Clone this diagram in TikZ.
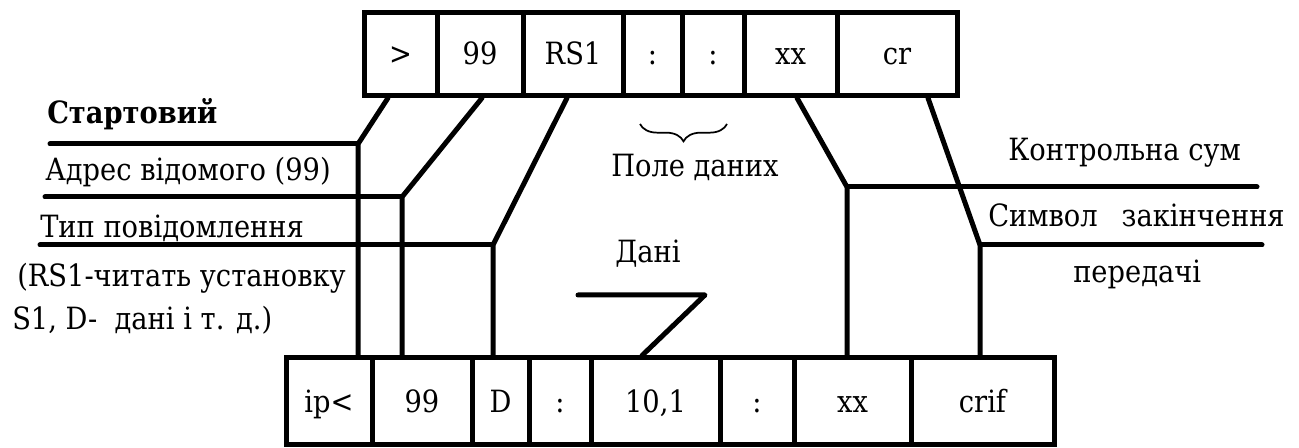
\documentclass[tikz,border=0pt]{standalone}
\usepackage{fontspec}
\setmainfont{DejaVu Serif}[FakeStretch=0.89]
\usetikzlibrary{decorations.pathreplacing}
\begin{document}
\begin{tikzpicture}[x=0.75pt,y=-0.75pt,
  every node/.style={font=\fontsize{23}{28}\selectfont},
  cell/.style={draw, line width=3.75pt, inner sep=0pt, text height=16pt, text depth=0pt},
  sz/.style 2 args={minimum width=#1*0.75pt, minimum height=#2*0.75pt},
  conn/.style={line width=3.75pt, line cap=round, line join=round},
  lbl/.style={anchor=base west, inner sep=0pt}]
\useasboundingbox (0,0) rectangle (1299,448);
% top frame
\node[cell, sz={73}{83}]  (t1) at (400.5,54) {>};
\node[cell, sz={86}{83}]  (t2) at (480,54)   {99};
\node[cell, sz={100}{83}] (t3) at (573,54)   {RS1};
\node[cell, sz={59}{83}]  (t4) at (652.5,54) {:};
\node[cell, sz={62}{83}]  (t5) at (713,54)   {:};
\node[cell, sz={93}{83}]  (t6) at (790.5,54) {xx};
\node[cell, sz={120}{83}] (t7) at (897,54)   {cr};
% bottom frame
\node[cell, sz={86}{87}]  (b1) at (329,401.5)   {ip<};
\node[cell, sz={100}{87}] (b2) at (422,401.5)   {99};
\node[cell, sz={57}{87}]  (b3) at (500.5,401.5) {D};
\node[cell, sz={62}{87}]  (b4) at (560,401.5)   {:};
\node[cell, sz={129}{87}] (b5) at (655.5,401.5) {10,1};
\node[cell, sz={74}{87}]  (b6) at (757,401.5)   {:};
\node[cell, sz={117}{87}] (b7) at (852.5,401.5) {xx};
\node[cell, sz={143}{87}] (b8) at (982.5,401.5) {crif};
% bend coordinates
\coordinate (k1) at (358,144); \coordinate (h1) at (50,144);
\coordinate (k2) at (402,197); \coordinate (h2) at (45,197);
\coordinate (k3) at (493,245); \coordinate (h3) at (40,245);
\coordinate (k4) at (847,187); \coordinate (h4) at (1257,187);
\coordinate (k5) at (980,245); \coordinate (h5) at (1262,245);
\coordinate (z1) at (578,295); \coordinate (z2) at (705,295);
% connectors
\draw[conn] ([xshift=-9.4pt]t1.south) -- (k1) -- (k1 |- b1.north);
\draw[conn] (h1) -- (k1);
\draw[conn] ([xshift=1.5pt]t2.south) -- (k2) -- (k2 |- b2.north);
\draw[conn] (h2) -- (k2);
\draw[conn] ([xshift=-4.5pt]t3.south) -- (k3) -- (k3 |- b3.north);
\draw[conn] (h3) -- (k3);
\draw[conn] ([xshift=4.9pt]t6.south) -- (k4) -- (k4 |- b7.north);
\draw[conn] (k4) -- (h4);
\draw[conn] ([xshift=23.25pt]t7.south) -- (k5) -- (k5 |- b8.north);
\draw[conn] (k5) -- (h5);
\draw[conn] (z1) -- (z2) -- ([xshift=-10.1pt]b5.north);
% brace
\draw[line width=1.3pt, decorate, decoration={brace, mirror, amplitude=13pt}] (640,124) -- (727,124);
% labels
\node[lbl, font=\fontsize{23}{28}\selectfont\bfseries] (l1) at (47,124) {Стартовий};
\node[lbl] (l2) at (45,181) {Адрес відомого (99)};
\node[lbl] (l3) at (40,238) {Тип повідомлення};
\node[lbl] (l4) at (17,287) {(RS1-читать установку};
\node[lbl] (l5) at (12,330) {S1, D-~ дані і т. д.)};
\node[lbl] (l6) at (611,177) {Поле даних};
\node[lbl] (l7) at (615,263) {Дані};
\node[lbl] (l8) at (1008,161) {Контрольна сум};
\node[lbl] (l9) at (988,227) {Символ\hspace{18pt}закінчення};
\node[lbl] (l10) at (1073,283) {передачі};
\end{tikzpicture}
\end{document}
